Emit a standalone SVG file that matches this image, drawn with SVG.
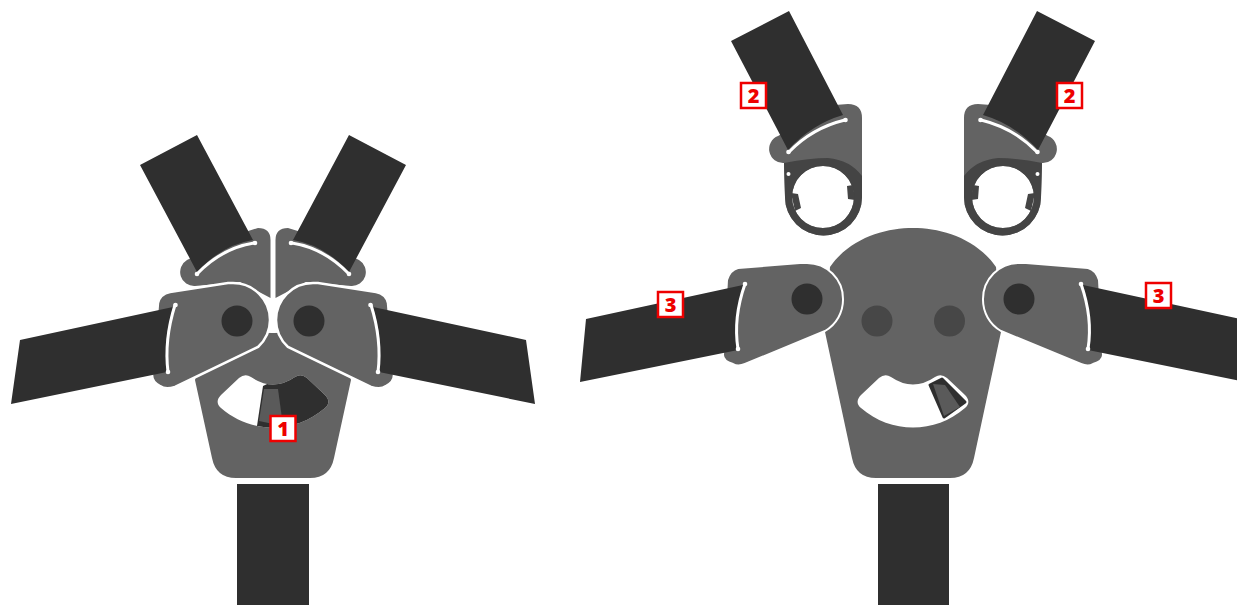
<svg xmlns="http://www.w3.org/2000/svg" width="1237" height="605" viewBox="0 0 1237 605">
<style>
.strap{fill:#2f2f2f}
.plate{fill:#636363}
.arm{fill:#636363;stroke:#fff;stroke-width:2.5}
.armb{fill:#636363;stroke:#fff;stroke-width:2}
.ring{fill:#444}
.seam{fill:none;stroke:#fff;stroke-width:3;stroke-linecap:round}
.dot{fill:#fff}
.pin{fill:#2f2f2f}
.hole{fill:#474747}
.void{fill:#fff}
.box{fill:#fff;stroke:#ee0000;stroke-width:2.500}
.lab{fill:#ee0000;font:800 20px "Open Sans","Liberation Sans",sans-serif;text-anchor:middle}
</style>
<defs>
<path id="slot" d="M221,408C216,404 217,399 221,395L239,378Q245,373 251,377Q273,392 295,377Q301,373 307,378L325,395C329,399 330,404 325,408C295,434 251,434 221,408Z"/>
<clipPath id="slotclip"><use href="#slot"/></clipPath>
<g id="upperClosed">
<path class="plate" d="M270.500,298L270.500,240Q270.500,228 258,228L245,232L187,260A14,14 0 0 0 195,286L240,282Z"/>
<path class="strap" d="M140,165L197,135L253,240Q222,245 197,272Z"/>
<path class="seam" d="M254,243Q222,248 197,274"/>
<circle class="dot" cx="255" cy="243" r="2.300"/><circle class="dot" cx="197" cy="274" r="2.300"/>
</g>
<g id="armClosed">
<path class="arm" d="M158,303Q160,294 170,292L228,283Q231,283 233,283A37,37 0 0 1 270,320A37,37 0 0 1 258,347L175,387Q165,390 160,386Q152,382 152,375Z"/>
<path class="strap" d="M20,340L173,307Q163,340 167,372L11,404Z"/>
<path class="seam" d="M175,305Q164,340 168,372"/>
<circle class="dot" cx="175.500" cy="305" r="2.300"/><circle class="dot" cx="168" cy="372" r="2.300"/>
<circle class="pin" cx="237" cy="321" r="15.500"/>
</g>
<g id="upperOpen">
<path class="plate" fill-rule="evenodd" d="M784,163A14,14 0 0 1 778,136L835,105L848,104Q862,104 862,118L862,197A38.500,38.500 0 0 1 785,197ZM854,197A31,31 0 1 0 792,197A31,31 0 1 0 854,197Z"/>
<path class="ring" fill-rule="evenodd" d="M784,163Q810,158 828,158Q850,160 862,176L862,197A38.500,38.500 0 0 1 785,197ZM854,197A31,31 0 1 0 792,197A31,31 0 1 0 854,197Z"/>
<path class="ring" d="M791,193L798,194L801,208L795,211ZM853,185L847,186L848,199L855,200Z"/>
<circle class="void" cx="788.500" cy="174" r="2"/>
<path class="strap" d="M731,41L789,11L843,115Q812,124 788,150Z"/>
<path class="seam" d="M845,120Q812,128 789,152"/>
<circle class="dot" cx="845.500" cy="120" r="2.300"/><circle class="dot" cx="788.500" cy="152" r="2.300"/>
</g>
<g id="armOpen">
<path class="armb" d="M727,280Q730,270 738,268L800,263Q804,263 807,263A36,36 0 0 1 843,299A36,36 0 0 1 825,331L745,364Q738,367 733,364Q723,361 723,355Z"/>
<path class="strap" d="M586,319L743,285Q733,318 738,350L580,382Z"/>
<path class="seam" d="M745,284Q733,318 738,349"/>
<circle class="dot" cx="745" cy="284" r="2.300"/><circle class="dot" cx="738" cy="349" r="2.300"/>
<circle class="pin" cx="807" cy="299" r="15.500"/>
</g>
</defs>

<g id="connectors"></g>

<g id="figure-closed">
<rect id="strap-bottom-a" class="strap" x="237" y="484" width="72" height="121"/>
<g id="buckle-a">
<path class="plate" d="M195,380L212,458Q216,478 236,478L310,478Q330,478 334,458L351,380L340,332L273,333L206,332Z"/>
<use href="#slot" class="void"/>
<g clip-path="url(#slotclip)">
<path class="strap" d="M257,426L263,386L300,368L336,400L300,440Z"/>
<path fill="#5a5a5a" d="M259,421L264,389L278,389L283,426Z"/>
</g>
</g>
<g id="upper-left-a"><use href="#upperClosed"/></g>
<g id="upper-right-a"><use href="#upperClosed" transform="matrix(-1 0 0 1 546 0)"/></g>
<g id="arm-left-a"><use href="#armClosed"/></g>
<g id="arm-right-a"><use href="#armClosed" transform="matrix(-1 0 0 1 546 0)"/></g>
</g>

<g id="figure-open">
<rect id="strap-bottom-b" class="strap" x="878" y="484" width="71" height="121"/>
<g id="buckle-b">
<path class="plate" d="M830,267C850,238 885,228 913,228C941,228 976,238 996,267L1001,332L974,458Q970,478 950,478L876,478Q856,478 852,458L825,332Z"/>
<circle class="hole" cx="877" cy="321" r="15.500"/>
<circle class="hole" cx="949.500" cy="321" r="15.500"/>
<use href="#slot" class="void" transform="translate(640 0)"/>
<path d="M930,385L942,379L965,402L944,417Z" fill="#2f2f2f" stroke="#2f2f2f" stroke-width="3" stroke-linejoin="round"/>
<path d="M933,384L945,385L960,407L944,416Z" fill="#5a5a5a"/>
</g>
<g id="upper-left-b"><use href="#upperOpen"/></g>
<g id="upper-right-b"><use href="#upperOpen" transform="matrix(-1 0 0 1 1826 0)"/></g>
<g id="arm-left-b"><use href="#armOpen"/></g>
<g id="arm-right-b"><use href="#armOpen" transform="matrix(-1 0 0 1 1826 0)"/></g>
</g>

<g id="label-1"><rect class="box" x="270.500" y="416" width="25" height="25"/><text class="lab" x="283" y="436">1</text></g>
<g id="label-2a"><rect class="box" x="741" y="83" width="25" height="25"/><text class="lab" x="753.500" y="103">2</text></g>
<g id="label-2b"><rect class="box" x="1057" y="83" width="25" height="25"/><text class="lab" x="1069.500" y="103">2</text></g>
<g id="label-3a"><rect class="box" x="658" y="292" width="25" height="25"/><text class="lab" x="670.500" y="312">3</text></g>
<g id="label-3b"><rect class="box" x="1146" y="283" width="25" height="25"/><text class="lab" x="1158.500" y="303">3</text></g>
</svg>
